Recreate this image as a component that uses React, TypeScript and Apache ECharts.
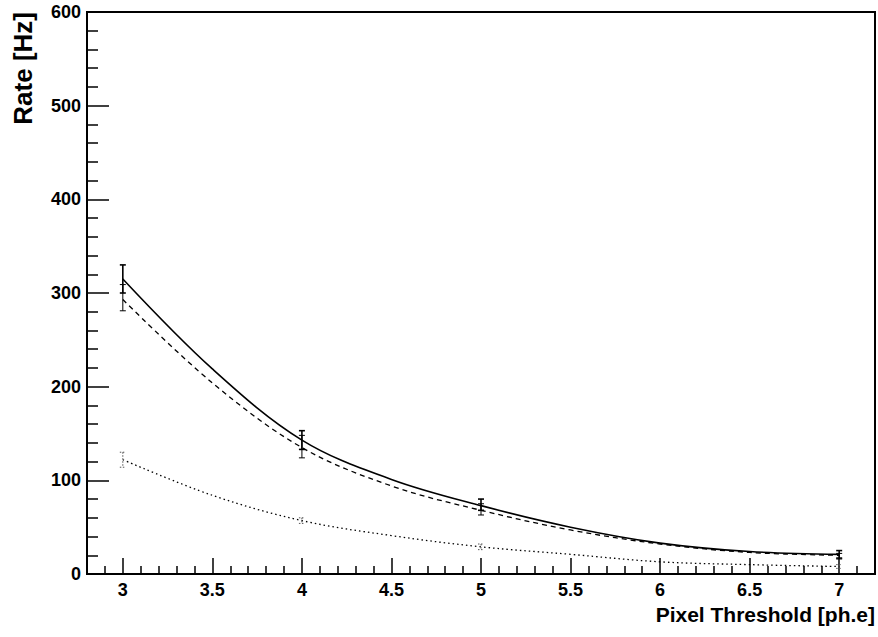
import React, { useEffect, useRef } from "react";
import * as echarts from "echarts";

// Fitted curves
const curveX = [3, 3.5, 4, 4.5, 5, 5.5, 6, 6.5, 7];
const solidCurve = [315, 219, 143, 101, 73, 50, 33, 24, 21];
const dashedCurve = [293, 204, 135, 94, 68, 47, 32, 23, 20];
const dottedCurve = [122, 84, 57, 41, 29, 21, 13, 10, 8];

// Measured points: x, value, error
const pointX = [3, 4, 5, 7];
const solidVal = [315, 143, 74, 21];
const solidErr = [15, 10, 6, 4];
const dashedVal = [295, 136, 69, 19];
const dashedErr = [14, 12, 6, 3];
const dottedVal = [122, 57, 29, 8];
const dottedErr = [8, 3, 3, 2];

const FONT = "Liberation Sans, Arial, Helvetica, sans-serif";

function pairs(xs: number[], ys: number[]) {
  return xs.map((x, i) => [x, ys[i]]);
}
function triples(xs: number[], ys: number[], es: number[]) {
  return xs.map((x, i) => [x, ys[i], es[i]]);
}

function errRender(color: string, width: number, dash: number[] | null) {
  return (params: any, api: any) => {
    const x = api.value(0);
    const y = api.value(1);
    const e = api.value(2);
    const top = api.coord([x, y + e]);
    const bot = api.coord([x, y - e]);
    const hw = 3;
    const style: any = { stroke: color, lineWidth: width, fill: null };
    if (dash) style.lineDash = dash;
    return {
      type: "group",
      children: [
        { type: "line", shape: { x1: top[0], y1: top[1], x2: bot[0], y2: bot[1] }, style },
        { type: "line", shape: { x1: top[0] - hw, y1: top[1], x2: top[0] + hw, y2: top[1] }, style },
        { type: "line", shape: { x1: bot[0] - hw, y1: bot[1], x2: bot[0] + hw, y2: bot[1] }, style },
      ],
    };
  };
}

export default function App() {
  const ref = useRef<HTMLDivElement>(null);
  useEffect(() => {
    if (!ref.current) return;
    const chart = echarts.init(ref.current, null, { renderer: "svg" });
    const labelStyle = { fontFamily: FONT, fontWeight: "bold" as const, fontSize: 18, color: "#000" };
    chart.setOption({
      animation: false,
      backgroundColor: "#fff",
      grid: {
        left: 87,
        right: 2,
        top: 12,
        bottom: 63,
        show: true,
        borderColor: "#000",
        borderWidth: 2,
        backgroundColor: "transparent",
      },
      xAxis: {
        type: "value",
        min: 2.8,
        max: 7.2,
        splitNumber: 9,
        name: "Pixel Threshold [ph.e]",
        nameLocation: "end",
        nameGap: 0,
        nameTextStyle: {
          fontFamily: FONT,
          fontWeight: "bold",
          fontSize: 21,
          color: "#000",
          align: "right",
          verticalAlign: "top",
          padding: [30, 0, 0, 0],
        },
        axisLine: { show: true, onZero: false, lineStyle: { color: "#000", width: 2 } },
        axisTick: { show: true, inside: true, length: 16, lineStyle: { color: "#000", width: 1.5 } },
        minorTick: { show: true, splitNumber: 5, length: 8, lineStyle: { color: "#000", width: 1.5 } },
        splitLine: { show: false },
        minorSplitLine: { show: false },
        axisLabel: { ...labelStyle, margin: 7, showMinLabel: false, showMaxLabel: false },
      },
      yAxis: {
        type: "value",
        min: 0,
        max: 600,
        interval: 100,
        name: "Rate [Hz]",
        nameLocation: "end",
        nameGap: 0,
        nameRotate: 90,
        nameTextStyle: {
          fontFamily: FONT,
          fontWeight: "bold",
          fontSize: 26,
          color: "#000",
          align: "right",
          verticalAlign: "bottom",
          padding: [0, 0, 51, 0],
        },
        axisLine: { show: true, onZero: false, lineStyle: { color: "#000", width: 2 } },
        axisTick: { show: true, inside: true, length: 22, lineStyle: { color: "#000", width: 1.5 } },
        minorTick: { show: true, splitNumber: 5, length: 11, lineStyle: { color: "#000", width: 1.5 } },
        splitLine: { show: false },
        minorSplitLine: { show: false },
        axisLabel: { ...labelStyle, margin: 6 },
      },
      series: [
        {
          type: "line",
          name: "total",
          data: pairs(curveX, solidCurve),
          smooth: 0.35,
          showSymbol: false,
          lineStyle: { color: "#000", width: 1.6, type: "solid" },
          z: 3,
        },
        {
          type: "line",
          name: "component A",
          data: pairs(curveX, dashedCurve),
          smooth: 0.35,
          showSymbol: false,
          lineStyle: { color: "#000", width: 1.3, type: [5, 4] },
          z: 3,
        },
        {
          type: "line",
          name: "component B",
          data: pairs(curveX, dottedCurve),
          smooth: 0.35,
          showSymbol: false,
          lineStyle: { color: "#000", width: 1.3, type: [1.5, 3] },
          z: 3,
        },
        {
          type: "custom",
          name: "total points",
          data: triples(pointX, solidVal, solidErr),
          encode: { x: 0, y: 1 },
          renderItem: errRender("#000", 1.6, null),
          z: 4,
        },
        {
          type: "custom",
          name: "A points",
          data: triples(pointX, dashedVal, dashedErr),
          encode: { x: 0, y: 1 },
          renderItem: errRender("#000", 1, null),
          z: 4,
        },
        {
          type: "custom",
          name: "B points",
          data: triples(pointX, dottedVal, dottedErr),
          encode: { x: 0, y: 1 },
          renderItem: errRender("#555", 1, [1.5, 1.5]),
          z: 4,
        },
      ],
    });
    return () => chart.dispose();
  }, []);
  return (
    <div
      ref={ref}
      style={{ position: "fixed", left: 0, top: 0, width: 878, height: 637, background: "#fff" }}
    />
  );
}
